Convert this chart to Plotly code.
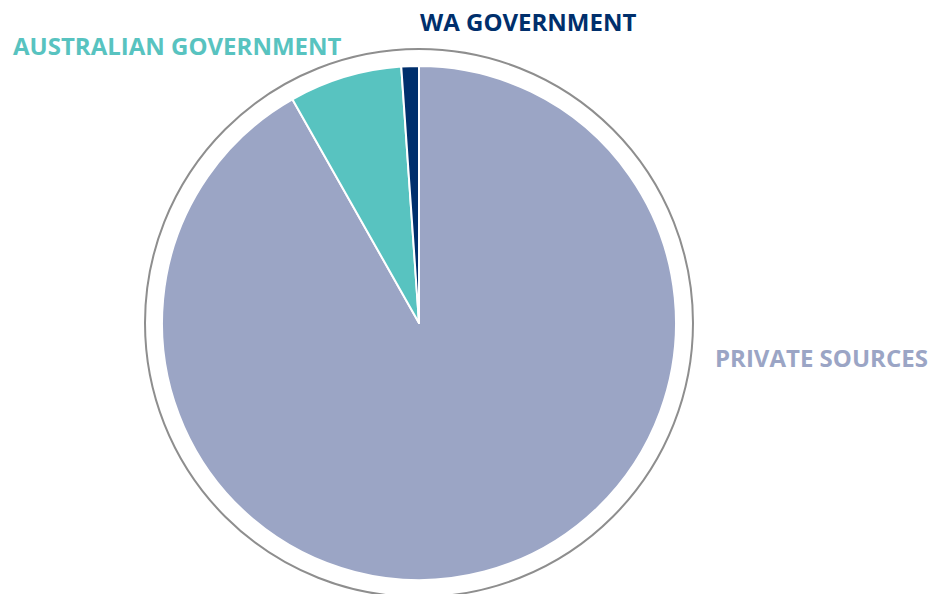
import plotly.graph_objects as go

categories = ["PRIVATE SOURCES", "AUSTRALIAN GOVERNMENT", "WA GOVERNMENT"]
shares = [91.8, 7.1, 1.1]
colors = ["#9BA5C5", "#58C3C0", "#002F6C"]

W, H = 933, 594
cx, cy, r = 419, 323, 257
ring_r = 274

fig = go.Figure(go.Pie(
    labels=categories,
    values=shares,
    sort=False,
    direction="clockwise",
    rotation=0,
    textinfo="none",
    hoverinfo="label+percent",
    marker=dict(colors=colors, line=dict(color="white", width=2)),
    domain=dict(x=[(cx - r) / W, (cx + r) / W], y=[(H - cy - r) / H, (H - cy + r) / H]),
    showlegend=False,
))

fig.add_shape(type="circle", xref="paper", yref="paper",
              x0=(cx - ring_r) / W, x1=(cx + ring_r) / W,
              y0=(H - cy - ring_r) / H, y1=(H - cy + ring_r) / H,
              line=dict(color="#8E8E8E", width=2), layer="below")

label_pos = [(821, 357), (177, 45), (528, 21)]
for name, col, (px, py) in zip(categories, colors, label_pos):
    fig.add_annotation(x=px / W, y=1 - py / H, xref="paper", yref="paper",
                       text=f"<b>{name}</b>", showarrow=False,
                       font=dict(family="Open Sans", size=24, color=col),
                       xanchor="center", yanchor="middle")

fig.update_layout(width=W, height=H, margin=dict(l=0, r=0, t=0, b=0),
                  paper_bgcolor="white", plot_bgcolor="white")
fig.write_html("out.html")
